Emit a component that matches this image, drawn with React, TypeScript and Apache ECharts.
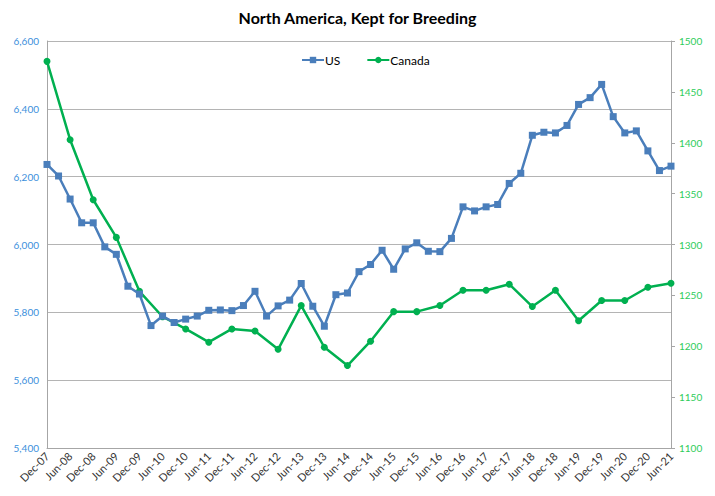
import React, { useEffect, useRef } from "react";
import * as echarts from "echarts";

const quarters: string[] = [
  "Dec-07", "Mar-08", "Jun-08", "Sep-08", "Dec-08", "Mar-09", "Jun-09", "Sep-09",
  "Dec-09", "Mar-10", "Jun-10", "Sep-10", "Dec-10", "Mar-11", "Jun-11", "Sep-11",
  "Dec-11", "Mar-12", "Jun-12", "Sep-12", "Dec-12", "Mar-13", "Jun-13", "Sep-13",
  "Dec-13", "Mar-14", "Jun-14", "Sep-14", "Dec-14", "Mar-15", "Jun-15", "Sep-15",
  "Dec-15", "Mar-16", "Jun-16", "Sep-16", "Dec-16", "Mar-17", "Jun-17", "Sep-17",
  "Dec-17", "Mar-18", "Jun-18", "Sep-18", "Dec-18", "Mar-19", "Jun-19", "Sep-19",
  "Dec-19", "Mar-20", "Jun-20", "Sep-20", "Dec-20", "Mar-21", "Jun-21",
];

// US, quarterly (left axis)
const usValues: number[] = [
  6236, 6202, 6134, 6064, 6064, 5993, 5971, 5877,
  5854, 5761, 5789, 5770, 5780, 5789, 5806, 5807,
  5805, 5820, 5862, 5789, 5819, 5836, 5885, 5818,
  5759, 5852, 5857, 5920, 5941, 5983, 5927, 5987,
  6005, 5980, 5979, 6018, 6111, 6099, 6111, 6118,
  6180, 6210, 6322, 6331, 6329, 6351, 6413, 6433,
  6472, 6377, 6329, 6335, 6276, 6218, 6231,
];

// Canada, semi-annual (right axis): Dec-07, Jun-08, ... Jun-21
const canadaValues: number[] = [
  1480, 1403, 1344, 1307, 1254, 1229, 1217, 1204,
  1217, 1215, 1197, 1240, 1199, 1181, 1205, 1234,
  1234, 1240, 1255, 1255, 1261, 1239, 1255, 1225,
  1245, 1245, 1258, 1262,
];

const leftTicks = { min: 5400, max: 6600, interval: 200 };
const rightTicks = { min: 1100, max: 1500, interval: 50 };

const FONT = "Lato, 'Open Sans', sans-serif";

export default function App() {
  const ref = useRef<HTMLDivElement>(null);

  useEffect(() => {
    if (!ref.current) return;
    const chart = echarts.init(ref.current, null, { renderer: "svg" });

    const canadaQuarterly: (number | null)[] = quarters.map((_, i) =>
      i % 2 === 0 ? canadaValues[i / 2] ?? null : null
    );

    chart.setOption({
      animation: false,
      backgroundColor: "#ffffff",
      title: {
        text: "North America, Kept for Breeding",
        left: "center",
        top: 4,
        textStyle: { fontFamily: FONT, fontSize: 16, fontWeight: "bold", color: "#000000" },
      },
      legend: {
        left: 296,
        top: 49,
        itemWidth: 22,
        itemHeight: 8,
        itemGap: 26,
        textStyle: { fontFamily: FONT, fontSize: 12, color: "#000000", padding: [0, 0, 0, -4] },
        data: ["US", "Canada"],
      },
      grid: { left: 47, right: 44, top: 41, bottom: 48, containLabel: false },
      xAxis: {
        type: "category",
        data: quarters,
        boundaryGap: false,
        axisLine: { show: true, lineStyle: { color: "#a6a6a6", width: 1 } },
        axisTick: { show: false },
        splitLine: { show: false },
        axisLabel: {
          interval: 1,
          rotate: 45,
          margin: 6,
          fontFamily: FONT,
          fontSize: 11,
          color: "#333333",
        },
      },
      yAxis: [
        {
          type: "value",
          position: "left",
          min: leftTicks.min,
          max: leftTicks.max,
          interval: leftTicks.interval,
          axisLine: { show: true, lineStyle: { color: "#a6a6a6" } },
          axisTick: { show: false },
          splitLine: { show: true, lineStyle: { color: "#b4b4b4", width: 1 } },
          axisLabel: {
            margin: 8,
            fontFamily: FONT,
            fontSize: 10,
            color: "#3c8fdc",
            formatter: (v: number) => v.toLocaleString("en-US"),
          },
        },
        {
          type: "value",
          position: "right",
          min: rightTicks.min,
          max: rightTicks.max,
          interval: rightTicks.interval,
          axisLine: { show: true, lineStyle: { color: "#a6a6a6" } },
          axisTick: { show: true, inside: false, length: 4, lineStyle: { color: "#a6a6a6" } },
          splitLine: { show: false },
          axisLabel: {
            margin: 8,
            fontFamily: FONT,
            fontSize: 10,
            color: "#2ecc5a",
            formatter: (v: number) => String(v),
          },
        },
      ],
      series: [
        {
          name: "US",
          type: "line",
          yAxisIndex: 0,
          data: usValues,
          symbol: "rect",
          symbolSize: 7,
          lineStyle: { color: "#4a7ebb", width: 2.5 },
          itemStyle: { color: "#4a7ebb" },
          z: 3,
        },
        {
          name: "Canada",
          type: "line",
          yAxisIndex: 1,
          data: canadaQuarterly,
          connectNulls: true,
          symbol: "circle",
          symbolSize: 7,
          lineStyle: { color: "#00b050", width: 2.5 },
          itemStyle: { color: "#00b050" },
          z: 2,
        },
      ],
    });

    return () => chart.dispose();
  }, []);

  return (
    <div
      ref={ref}
      style={{ position: "fixed", left: 0, top: 0, width: 715, height: 496, background: "#fff" }}
    />
  );
}
